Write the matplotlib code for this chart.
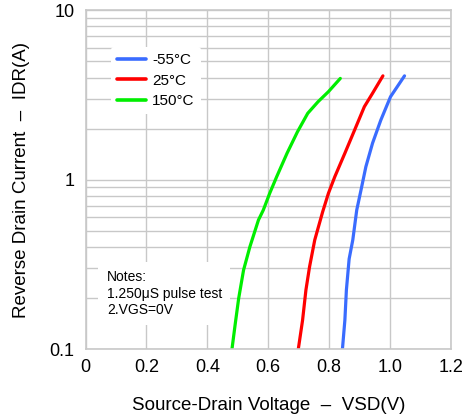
import numpy as np
import matplotlib
matplotlib.use("Agg")
import matplotlib.pyplot as plt
from matplotlib.ticker import LogLocator, NullFormatter

plt.rcParams['font.family'] = ['Liberation Sans', 'DejaVu Sans']

# curve data (VSD in V, IDR in A)
vsd_m55 = [0.844, 0.852, 0.857, 0.866, 0.878, 0.891, 0.905, 0.921, 0.943, 0.970, 1.002, 1.048]
idr_m55 = [0.100, 0.148, 0.223, 0.340, 0.440, 0.661, 0.867, 1.19, 1.64, 2.24, 3.08, 4.09]
vsd_25 = [0.699, 0.713, 0.724, 0.736, 0.753, 0.779, 0.798, 0.819, 0.852, 0.884, 0.916, 0.943, 0.977]
idr_25 = [0.100, 0.148, 0.223, 0.306, 0.440, 0.645, 0.830, 1.04, 1.43, 1.96, 2.69, 3.23, 4.09]
vsd_150 = [0.481, 0.492, 0.503, 0.519, 0.540, 0.568, 0.584, 0.605, 0.628, 0.662, 0.696,
           0.730, 0.764, 0.798, 0.837]
idr_150 = [0.100, 0.142, 0.199, 0.292, 0.402, 0.577, 0.661, 0.830, 1.04, 1.43, 1.91,
           2.46, 2.88, 3.30, 3.95]

series = [("-55°C", vsd_m55, idr_m55, "#3a6cff"),
          ("25°C", vsd_25, idr_25, "#ff0000"),
          ("150°C", vsd_150, idr_150, "#00ee00")]

x_ticks = [0, 0.2, 0.4, 0.6, 0.8, 1.0, 1.2]
x_labels = ["0", "0.2", "0.4", "0.6", "0.8", "1.0", "1.2"]
y_ticks = [0.1, 1, 10]
y_labels = ["0.1", "1", "10"]

fig = plt.figure(figsize=(4.73, 4.19), dpi=100)
ax = fig.add_axes([0.181, 0.167, 0.772, 0.809])

for name, v, i, c in series:
    ax.plot(v, i, color=c, lw=2.3, label=name, solid_capstyle='round',
            solid_joinstyle='round')

ax.set_yscale('log')
ax.set_xlim(0, 1.2)
ax.set_ylim(0.1, 10)
ax.set_xticks(x_ticks)
ax.set_xticklabels(x_labels)
ax.set_yticks(y_ticks)
ax.set_yticklabels(y_labels)
ax.yaxis.set_minor_locator(LogLocator(base=10, subs=np.arange(2, 10)))
ax.yaxis.set_minor_formatter(NullFormatter())
ax.tick_params(which='both', length=0, labelsize=13)
ax.tick_params(axis='x', pad=7)
ax.tick_params(axis='y', pad=8)

gc = '#c8c8c8'
ax.grid(True, which='both', color=gc, lw=1)
ax.set_axisbelow(True)
for s in ax.spines.values():
    s.set_color(gc)
    s.set_linewidth(1.2)

ax.set_xlabel("Source-Drain Voltage  –  VSD(V)", fontsize=13.5, labelpad=15)
ax.set_ylabel("Reverse Drain Current  –  IDR(A)", fontsize=13.5)
ax.yaxis.set_label_coords(-0.152, 0.5)

leg = ax.legend(loc='upper left', bbox_to_anchor=(0.069, 0.89), frameon=True,
                fontsize=11, handlelength=1.9, labelspacing=0.41,
                borderpad=0.4, handletextpad=0.4, borderaxespad=0)
leg.get_frame().set_facecolor('white')
leg.get_frame().set_edgecolor('none')
leg.get_frame().set_alpha(1)
for h in leg.get_lines():
    h.set_linewidth(2.6)

ax.text(0.058, 0.232, "Notes:\n1.250μS pulse test\n2.VGS=0V", transform=ax.transAxes,
        fontsize=10, va='top', ha='left', linespacing=1.2,
        bbox=dict(facecolor='white', edgecolor='none', pad=6))

fig.savefig("out.png", dpi=100)
